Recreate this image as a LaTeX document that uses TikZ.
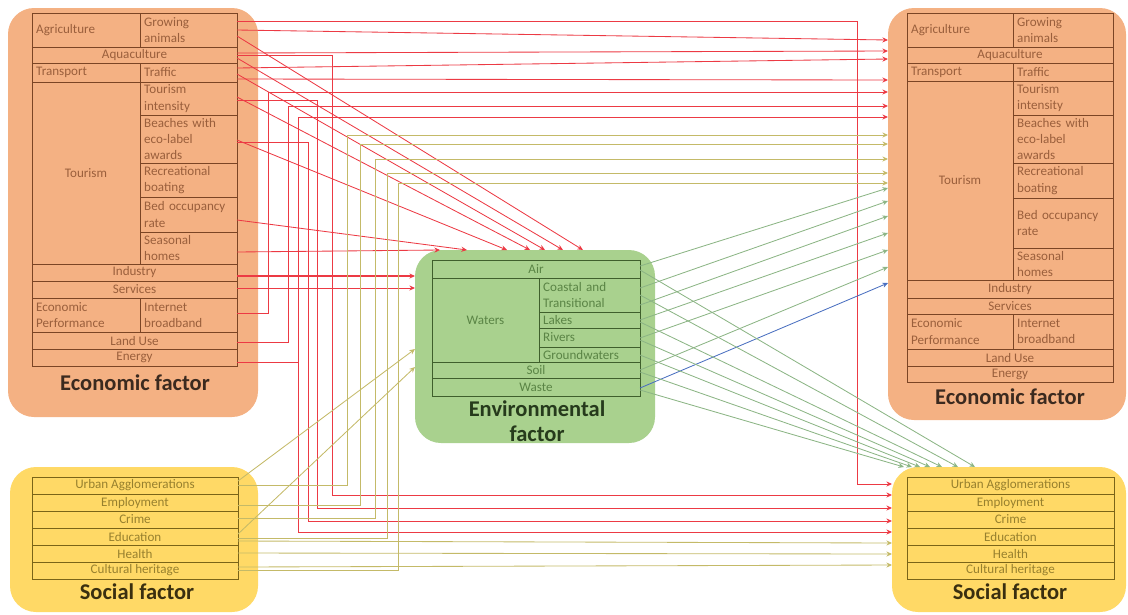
\documentclass[tikz,border=0pt]{standalone}
\usepackage{fontspec}
\setmainfont{Carlito}
\usetikzlibrary{arrows.meta}

\definecolor{ecofill}{HTML}{F4B183}
\definecolor{ecoline}{HTML}{7B4525}
\definecolor{ecotext}{HTML}{9A5F3C}
\definecolor{ecohead}{HTML}{3B2A1F}
\definecolor{envfill}{HTML}{A9D18E}
\definecolor{envline}{HTML}{3F5F2C}
\definecolor{envtext}{HTML}{5A8445}
\definecolor{envhead}{HTML}{263A1C}
\definecolor{socfill}{HTML}{FFD966}
\definecolor{socline}{HTML}{7A6418}
\definecolor{soctext}{HTML}{97802E}
\definecolor{sochead}{HTML}{3A2F10}
\definecolor{redline}{HTML}{EC3A44}
\definecolor{oliveline}{HTML}{C4BA68}
\definecolor{greenline}{HTML}{8CB585}
\definecolor{blueline}{HTML}{4A6FC0}

\tikzset{
  cell/.style={draw,line width=0.6pt,inner xsep=2pt,inner ysep=0pt,outer sep=0pt,
    font=\fontsize{9.3}{11.5}\selectfont,align=center},
  lft/.style={text width=\cw,align=left},
  panel/.style={rounded corners=0.65cm,inner sep=0pt,outer sep=0pt},
  head/.style={font=\fontsize{16}{17.7}\selectfont\bfseries,align=center},
  rl/.style={draw=redline,line width=0.6pt,->},
  ol/.style={draw=oliveline,line width=0.6pt,->},
  gl/.style={draw=greenline,line width=0.6pt,->},
  bl/.style={draw=blueline,line width=0.6pt,->}
}

% Tabellenzelle: name, x1, y1, x2, y2, text
\newcommand{\tcell}[7][]{%
  \pgfmathsetlengthmacro{\cw}{((#5)-(#3))*0.025cm-6pt}%
  \node[cell,minimum width={((#5)-(#3))*0.025cm},minimum height={((#6)-(#4))*0.025cm},#1]
    (#2) at ({((#3)+(#5))/2},{((#4)+(#6))/2}) {#7};}
% Kasten: name, x1, y1, x2, y2, farbe
\newcommand{\factorbox}[6]{%
  \node[panel,fill=#6,minimum width={((#4)-(#2))*0.025cm},minimum height={((#5)-(#3))*0.025cm}]
    (#1) at ({((#2)+(#4))/2},{((#3)+(#5))/2}) {};}

\begin{document}
\begin{tikzpicture}[x=0.025cm,y=-0.025cm,>={Stealth[length=4pt,width=3.6pt]}]
\useasboundingbox (0,0) rectangle (1128,614);
% Kaesten
\factorbox{lebox}{8}{8}{258}{417}{ecofill}
\factorbox{rebox}{888}{8}{1126}{420}{ecofill}
\factorbox{envbox}{415}{250}{655}{443}{envfill}
\factorbox{lsbox}{10}{467}{258}{612}{socfill}
\factorbox{rsbox}{892}{467}{1126}{612}{socfill}

% Wirtschaft links
\begin{scope}[cell/.append style={draw=ecoline,text=ecotext}]
\tcell[lft]{lagr}{32}{13}{140}{47}{Agriculture}
\tcell[lft]{lgro}{140}{13}{237}{47}{Growing\\animals}
\tcell{laqu}{32}{47}{237}{63}{Aquaculture}
\tcell[lft]{ltra}{32}{63}{140}{82}{Transport}
\tcell[lft]{ltrf}{140}{63}{237}{82}{Traffic}
\tcell{ltou}{32}{82}{140}{264}{Tourism}
\tcell[lft]{ltin}{140}{82}{237}{115}{Tourism\\intensity}
\tcell[lft]{lbea}{140}{115}{237}{163}{Beaches with\\eco-label\\awards}
\tcell[lft]{lrec}{140}{163}{237}{197}{Recreational\\boating}
\tcell[lft]{lbed}{140}{197}{237}{232}{Bed occupancy\\rate}
\tcell[lft]{lsea}{140}{232}{237}{264}{Seasonal\\homes}
\tcell{lind}{32}{264}{237}{281}{Industry}
\tcell{lser}{32}{281}{237}{298}{Services}
\tcell[lft]{lper}{32}{298}{140}{332}{Economic\\Performance}
\tcell[lft]{lint}{140}{298}{237}{332}{Internet\\broadband}
\tcell{llan}{32}{332}{237}{349}{Land Use}
\tcell{lene}{32}{349}{237}{366}{Energy}
\end{scope}
\node[head,text=ecohead] (lehead) at (135,383) {Economic factor};

% Wirtschaft rechts
\begin{scope}[cell/.append style={draw=ecoline,text=ecotext}]
\tcell[lft]{ragr}{907}{13}{1013}{47}{Agriculture}
\tcell[lft]{rgro}{1013}{13}{1113}{47}{Growing\\animals}
\tcell{raqu}{907}{47}{1113}{63}{Aquaculture}
\tcell[lft]{rtra}{907}{63}{1013}{81}{Transport}
\tcell[lft]{rtrf}{1013}{63}{1113}{81}{Traffic}
\tcell{rtou}{907}{81}{1013}{280}{Tourism}
\tcell[lft]{rtin}{1013}{81}{1113}{115}{Tourism\\intensity}
\tcell[lft]{rbea}{1013}{115}{1113}{163}{Beaches with\\eco-label\\awards}
\tcell[lft]{rrec}{1013}{163}{1113}{198}{Recreational\\boating}
\tcell[lft]{rbed}{1013}{198}{1113}{248}{Bed occupancy\\rate}
\tcell[lft]{rsea}{1013}{248}{1113}{280}{Seasonal\\homes}
\tcell{rind}{907}{280}{1113}{298}{Industry}
\tcell{rser}{907}{298}{1113}{314}{Services}
\tcell[lft]{rper}{907}{314}{1013}{349}{Economic\\Performance}
\tcell[lft]{rint}{1013}{314}{1113}{349}{Internet\\broadband}
\tcell{rlan}{907}{349}{1113}{366}{Land Use}
\tcell{rene}{907}{366}{1113}{382}{Energy}
\end{scope}
\node[head,text=ecohead] (rehead) at (1010,397) {Economic factor};

% Umwelt
\begin{scope}[cell/.append style={draw=envline,text=envtext}]
\tcell{eair}{432}{260}{640}{278}{Air}
\tcell{ewat}{432}{278}{539}{362}{Waters}
\tcell[lft]{ecoa}{539}{278}{640}{312}{Coastal and\\Transitional}
\tcell[lft]{elak}{539}{312}{640}{328}{Lakes}
\tcell[lft]{eriv}{539}{328}{640}{347}{Rivers}
\tcell[lft]{egro}{539}{347}{640}{362}{Groundwaters}
\tcell{esoi}{432}{362}{640}{378}{Soil}
\tcell{ewas}{432}{378}{640}{396}{Waste}
\end{scope}
\node[head,text=envhead] (envhead) at (537,421) {Environmental\\factor};

% Soziales links und rechts
\begin{scope}[cell/.append style={draw=socline,text=soctext}]
\foreach \t [count=\i] in {Urban Agglomerations,Employment,Crime,Education,Health,Cultural heritage}{
  \tcell{s\i}{32}{477+17*(\i-1)}{238}{494+17*(\i-1)}{\t}
  \tcell{t\i}{907}{477+17*(\i-1)}{1114}{494+17*(\i-1)}{\t}}
\end{scope}
\node[head,text=sochead] (lshead) at (137,592) {Social factor};
\node[head,text=sochead] (rshead) at (1010,592) {Social factor};

% rot: Wirtschaft -> Wirtschaft
\draw[rl] (lgro.east |- 0,21) -- (857,21) -- (857,484) -- (rsbox.west |- 0,484);
\draw[rl] (lgro.east |- 0,30) -- (rebox.west |- 0,40);
\draw[rl] (laqu.east |- 0,53) -- (rebox.west |- 0,51);
\draw[rl] (ltrf.east |- 0,68) -- (rebox.west |- 0,59);
\draw[rl] (ltrf.east |- 0,79) -- (rebox.west |- 0,80);
\draw[rl] (lint.east |- 0,313) -| (268,92) -- (rebox.west |- 0,92);
\draw[rl] (llan.east |- 0,342) -| (288,106) -- (rebox.west |- 0,106);
\draw[rl] (lene.east |- 0,362) -| (298,117) -- (rebox.west |- 0,117);
% rot: Wirtschaft -> Umwelt
\foreach \s/\a/\b in {lgro/36/583,laqu/58/563,ltrf/74/545,ltin/97/530,lbea/140/507,lbed/220/467,lsea/252/440}
  {\draw[rl] (\s.east |- 0,\a) -- (envbox.north -| \b,0);}
\draw[rl,line width=1pt] (lind.east |- 0,276) -- (envbox.west |- 0,276);
\draw[rl] (lser.east |- 0,288) -- (envbox.west |- 0,288);
% rot: Wirtschaft -> Soziales
\draw[rl] (laqu.east |- 0,55) -| (332,495) -- (rsbox.west |- 0,495);
\draw[rl] (ltin.east |- 0,100) -| (317,508) -- (rsbox.west |- 0,508);
\draw[rl] (lbea.east |- 0,142) -| (308,521) -- (rsbox.west |- 0,521);
\draw[rl] (lene.east |- 0,362) -| (298,532) -- (rsbox.west |- 0,532);

% oliv: Soziales -> alle
\draw[ol] (s1.east |- 0,481) -- (envbox.west |- 0,349);
\draw[ol] (s4.east |- 0,534) -- (envbox.west |- 0,367);
\foreach \s/\a/\x/\b in {s1/485/347/135,s2/505/360/144,s3/518/375/159,s4/538/387/173,s6/570/398/183}
  {\draw[ol] (\s.east |- 0,\a) -| (\x,\b) -- (rebox.west |- 0,\b);}
\foreach \s/\a/\b in {s4/541/543,s5/553/554,s6/567/565}
  {\draw[ol] (\s.east |- 0,\a) -- (rsbox.west |- 0,\b);}

% gruen: Umwelt -> Wirtschaft, Soziales
\foreach \s/\a/\b in {eair/266/188,ecoa/288/201,ecoa/305/216,elak/320/233,eriv/338/250,esoi/370/267}
  {\draw[gl] (\s.east |- 0,\a) -- (rebox.west |- 0,\b);}
\draw[bl] (ewas.east |- 0,388) -- (rebox.west |- 0,283);
\foreach \s/\a/\b in {eair/270/975,ecoa/295/958,elak/322/942,eriv/340/930,egro/355/920,esoi/372/912,ewas/390/904}
  {\draw[gl] (\s.east |- 0,\a) -- (rsbox.north -| \b,0);}
\end{tikzpicture}
\end{document}
